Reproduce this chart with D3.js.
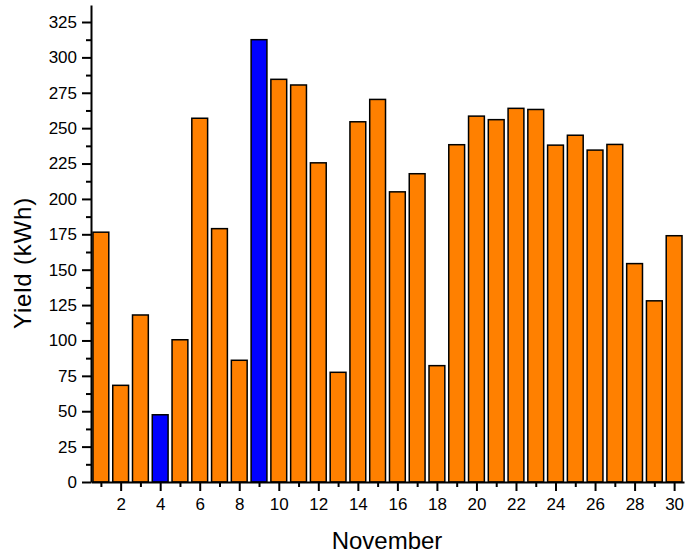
<!DOCTYPE html>
<html>
<head>
<meta charset="utf-8">
<script src="https://cdn.jsdelivr.net/npm/d3@7"></script>
<style>
    body { margin: 0; background: #fff; }
    svg { display: block; font-family: "Liberation Sans", Arial, sans-serif; }
    .axis path, .axis line { stroke: #000; stroke-width: 2; }
    .bar { stroke: #000; stroke-width: 1.5; }
    .title { font-size: 24px; fill: #000; }
</style>
</head>
<body>
<script>
var svgWidth = 686, svgHeight = 559;

// November daily yield
var days = d3.range(1, 31);
var yieldKWh = [176.5, 68.3, 118, 47.5, 100.5, 257, 179, 86, 312.5, 284.5,
                280.5, 225.5, 77.5, 254.5, 270.3, 205, 217.8, 82.2, 238.3, 258.5,
                256, 264, 263.2, 238, 245, 234.5, 238.5, 154.3, 128, 174];
var yTicks = d3.range(0, 326, 25);
var xTicks = d3.range(2, 31, 2);

var dataset = days.map(function(d, i) { return { day: d, value: yieldKWh[i] }; });
var maxV = d3.max(yieldKWh), minV = d3.min(yieldKWh);

var plotLeft = 91, plotRight = 684, plotTop = 5, plotBottom = 482;

var xScale = d3.scaleLinear()
    .domain([0.5, 30.5])
    .range([plotLeft, plotRight]);

var yScale = d3.scaleLinear()
    .domain([0, 25 * (plotBottom - plotTop) / ((plotBottom - 22) / 13)])
    .range([plotBottom, plotTop]);

var barWidth = (xScale(2) - xScale(1)) * 0.8;

var svg = d3.select('body')
    .append('svg')
    .attr('width', svgWidth)
    .attr('height', svgHeight);

svg.selectAll('rect.bar')
    .data(dataset)
    .enter()
    .append('rect')
    .attr('class', 'bar')
    .attr('x', function(d) { return xScale(d.day) - barWidth / 2; })
    .attr('y', function(d) { return yScale(d.value); })
    .attr('width', barWidth)
    .attr('height', function(d) { return yScale(0) - yScale(d.value); })
    .attr('fill', function(d) {
        return (d.value === maxV || d.value === minV) ? '#0000ff' : '#ff8000';
    });

// minor ticks
var yMinor = d3.axisLeft(yScale).tickValues(d3.range(12.5, 337, 25)).tickSize(5).tickFormat('');
var xMinor = d3.axisBottom(xScale).tickValues(d3.range(1, 31, 2)).tickSize(5).tickFormat('');

svg.append('g')
    .attr('class', 'x axis')
    .attr('transform', `translate(0, ${plotBottom})`)
    .call(xMinor)
    .call(function(g) { g.select('.domain').remove(); });

svg.append('g')
    .attr('class', 'y axis')
    .attr('transform', `translate(${plotLeft}, 0)`)
    .call(yMinor)
    .call(function(g) { g.select('.domain').remove(); });

var xAxis = d3.axisBottom(xScale).tickValues(xTicks).tickSize(9).tickSizeOuter(0).tickPadding(7);
var yAxis = d3.axisLeft(yScale).tickValues(yTicks).tickSize(9).tickSizeOuter(0).tickPadding(5);

svg.append('g')
    .attr('class', 'x axis')
    .attr('transform', `translate(0, ${plotBottom})`)
    .call(xAxis)
    .attr('font-size', 17)
    .attr('font-family', null);

svg.append('g')
    .attr('class', 'y axis')
    .attr('transform', `translate(${plotLeft}, 0)`)
    .call(yAxis)
    .attr('font-size', 17)
    .attr('font-family', null);

svg.selectAll('.axis text').attr('fill', '#000');

svg.append('text')
    .attr('class', 'title')
    .attr('x', 387)
    .attr('y', 549)
    .attr('text-anchor', 'middle')
    .text('November');

svg.append('text')
    .attr('class', 'title')
    .attr('transform', 'translate(31, 263) rotate(-90)')
    .attr('text-anchor', 'middle')
    .attr('letter-spacing', 0.8)
    .text('Yield (kWh)');
</script>
</body>
</html>
